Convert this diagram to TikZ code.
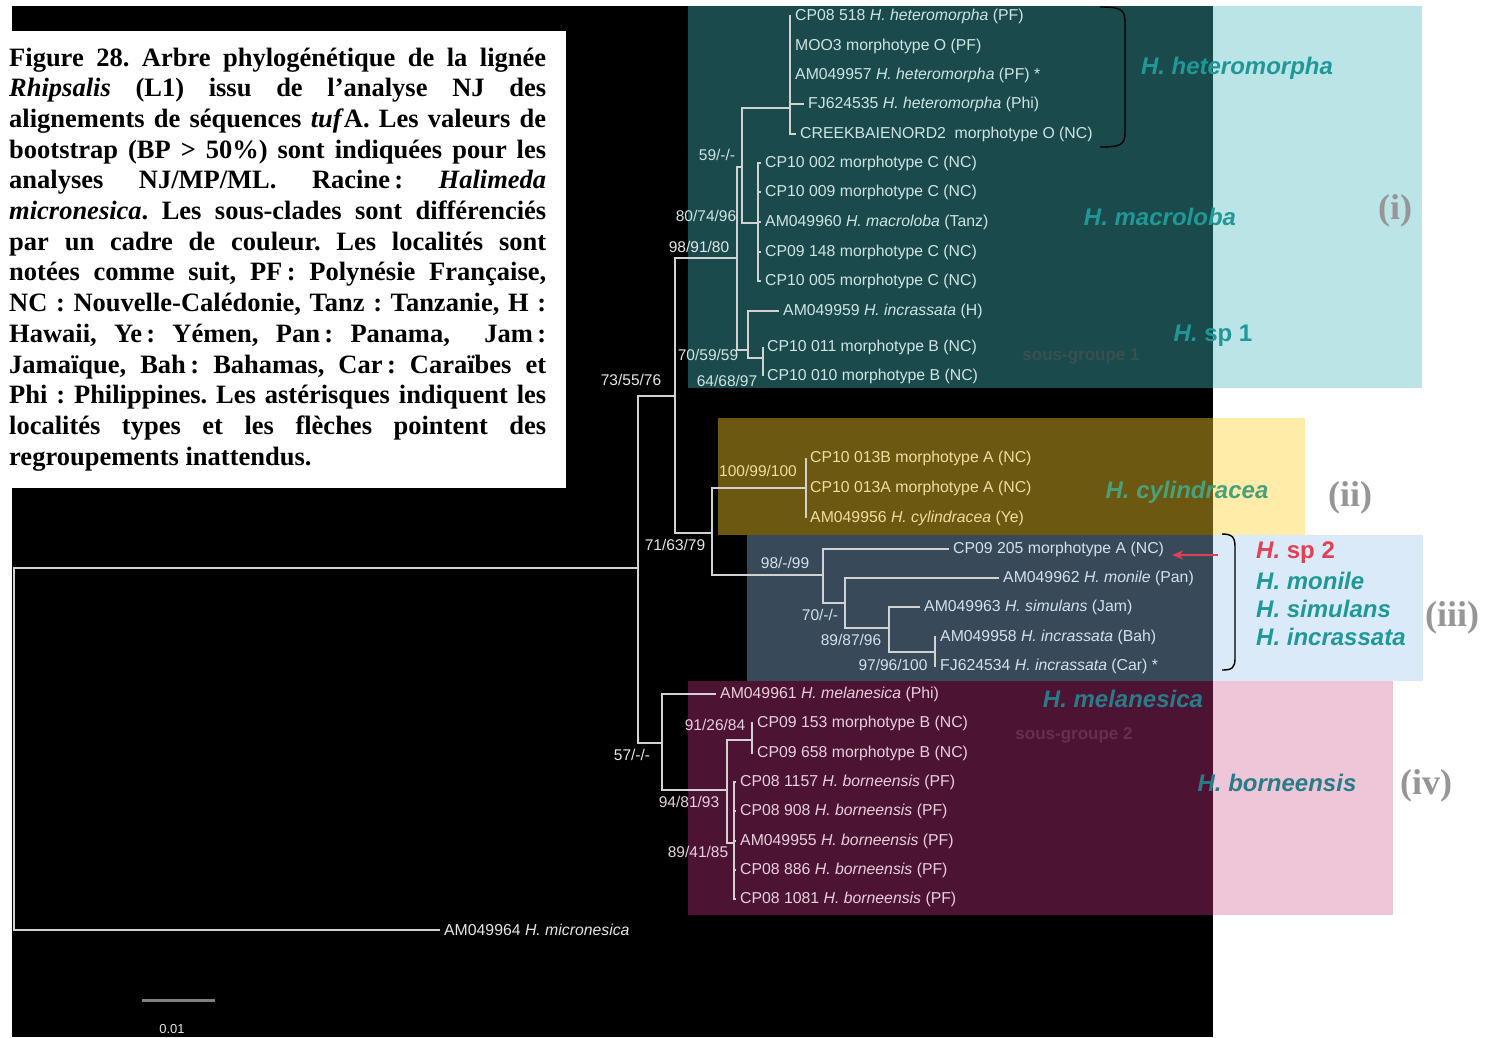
\documentclass[tikz,border=0pt]{standalone}
\usepackage{fontspec}
\setmainfont{Liberation Serif}
\newfontfamily\arialf{Liberation Sans}
\usetikzlibrary{arrows.meta}
\definecolor{tealdk}{RGB}{26,74,76}
\definecolor{teallt}{RGB}{186,228,230}
\definecolor{yeldk}{RGB}{108,88,16}
\definecolor{yellt}{RGB}{255,236,168}
\definecolor{bludk}{RGB}{56,74,90}
\definecolor{blult}{RGB}{218,234,248}
\definecolor{pnkdk}{RGB}{76,20,50}
\definecolor{pnklt}{RGB}{238,198,216}
\definecolor{linecol}{RGB}{210,210,210}
\definecolor{txtw}{RGB}{230,230,230}
\definecolor{txtteal}{RGB}{208,228,228}
\definecolor{txtyel}{RGB}{238,222,160}
\definecolor{txtblu}{RGB}{212,224,236}
\definecolor{txtpnk}{RGB}{232,208,220}
\definecolor{spteal}{RGB}{32,152,152}
\definecolor{spdteal}{RGB}{40,124,136}
\definecolor{spgreen}{RGB}{72,160,124}
\definecolor{spred}{RGB}{226,64,84}
\definecolor{romgray}{RGB}{150,150,150}
\definecolor{sgteal}{RGB}{58,80,80}
\definecolor{sgpink}{RGB}{100,50,76}
\definecolor{sbgray}{RGB}{128,128,128}
\newcommand\leaffont{\arialf\fontsize{15.8}{18}\selectfont}
\newcommand\bsfont{\arialf\fontsize{15.5}{18}\selectfont}
\newcommand\spfont{\arialf\bfseries\itshape\fontsize{24}{28}\selectfont}
\newcommand\sgfont{\arialf\bfseries\fontsize{17}{20}\selectfont}
\newcommand\romfont{\bfseries\fontsize{36}{40}\selectfont}
\newcommand\capfont{\bfseries\fontsize{26.5}{30.7}\selectfont\frenchspacing}
\newcommand\capline[1]{\makebox[537pt][s]{#1}}
\begin{document}
\begin{tikzpicture}[x=1pt,y=-1pt,
  br/.style={draw=linecol, line width=1.4pt},
  leaf/.style={anchor=west, inner xsep=4pt, inner ysep=0pt, font=\leaffont},
  bs/.style={font=\bsfont, inner sep=0pt},
  ctl/.style={text=txtteal}, cyl/.style={text=txtyel}, cbl/.style={text=txtblu},
  cpk/.style={text=txtpnk}, cwh/.style={text=txtw},
  spl/.style={font=\spfont, text=spteal, inner sep=0pt},
  roman/.style={font=\romfont, text=romgray, inner sep=0pt},
  brk/.style={draw=black, line width=1.4pt},
  sgl/.style={font=\sgfont, inner sep=0pt}]
\useasboundingbox (0,0) rectangle (1495,1037);
\fill[white] (0,0) rectangle (1495,1037);
\fill[black] (12,6) rectangle (1213,1037);
% coloured frames
\fill[tealdk] (688,6) rectangle (1213,388);
\fill[teallt] (1213,6) rectangle (1422,388);
\fill[yeldk] (718,418) rectangle (1213,535);
\fill[yellt] (1213,418) rectangle (1305,535);
\fill[bludk] (747,535) rectangle (1213,681);
\fill[blult] (1213,535) rectangle (1423,681);
\fill[pnkdk] (688,681) rectangle (1213,915);
\fill[pnklt] (1213,681) rectangle (1393,915);
% caption
\fill[white] (0,31) rectangle (566,488);
\node[anchor=base west, inner sep=0pt] (cap) at (9,66) {\begin{minipage}[t]{537pt}\capfont
\capline{Figure 28. Arbre phylogénétique de la lignée}\\
\capline{\textit{Rhipsalis} (L1) issu de l’analyse NJ des}\\
\capline{alignements de séquences \textit{tuf}A. Les valeurs de}\\
\capline{bootstrap (BP > 50\%) sont indiquées pour les}\\
\capline{analyses NJ/MP/ML. Racine\,: \textit{Halimeda}}\\
\capline{\textit{micronesica}. Les sous-clades sont différenciés}\\
\capline{par un cadre de couleur. Les localités sont}\\
\capline{notées comme suit, PF\,: Polynésie Française,}\\
\capline{NC : Nouvelle-Calédonie, Tanz : Tanzanie, H :}\\
\capline{Hawaii, Ye\,: Yémen, Pan\,: Panama,\ \ Jam\,:}\\
\capline{Jamaïque, Bah\,: Bahamas, Car\,: Caraïbes et}\\
\capline{Phi : Philippines. Les astérisques indiquent les}\\
\capline{localités types et les flèches pointent des}\\
regroupements inattendus.
\end{minipage}};
% faint sub-group labels
\node[sgl, text=sgteal] (sg1) at (1081,356) {sous-groupe 1};
\node[sgl, text=sgpink] (sg2) at (1074,735) {sous-groupe 2};
% internal nodes
\coordinate (R) at (14,749);
\coordinate (I) at (638,568);
\coordinate (A) at (675,396);
\coordinate (P) at (662,743);
\coordinate (T) at (737,258);
\coordinate (B) at (712,533);
\coordinate (H59) at (742,167);
\coordinate (N70) at (748,350);
\coordinate (HET) at (790,108);
\coordinate (MAC) at (758,223);
\coordinate (N64) at (763,358);
\coordinate (CYL) at (806,488);
\coordinate (N98) at (823,575);
\coordinate (N70b) at (845,603);
\coordinate (N89) at (889,628);
\coordinate (N97) at (935,652);
\coordinate (N94) at (727,790);
\coordinate (N91) at (752,740);
\coordinate (N89b) at (734,843);
% leaves
\node[leaf,cwh] (mic) at (440,930) {AM049964 \textit{H. micronesica}};
\node[leaf,ctl] (h1) at (791,16) {CP08 518 \textit{H. heteromorpha} (PF)};
\node[leaf,ctl] (h2) at (791,46) {MOO3 morphotype O (PF)};
\node[leaf,ctl] (h3) at (791,75) {AM049957 \textit{H. heteromorpha} (PF) *};
\node[leaf,ctl] (h4) at (804,104) {FJ624535 \textit{H. heteromorpha} (Phi)};
\node[leaf,ctl] (h5) at (796,134) {CREEKBAIENORD2\ \ morphotype O (NC)};
\node[leaf,ctl] (m1) at (761,163) {CP10 002 morphotype C (NC)};
\node[leaf,ctl] (m2) at (761,192) {CP10 009 morphotype C (NC)};
\node[leaf,ctl] (m3) at (761,222) {AM049960 \textit{H. macroloba} (Tanz)};
\node[leaf,ctl] (m4) at (761,252) {CP09 148 morphotype C (NC)};
\node[leaf,ctl] (m5) at (761,281) {CP10 005 morphotype C (NC)};
\node[leaf,ctl] (s0) at (779,311) {AM049959 \textit{H. incrassata} (H)};
\node[leaf,ctl] (s1) at (763,347) {CP10 011 morphotype B (NC)};
\node[leaf,ctl] (s2) at (763,376) {CP10 010 morphotype B (NC)};
\node[leaf,cyl] (c1) at (806,458) {CP10 013B morphotype A (NC)};
\node[leaf,cyl] (c2) at (806,488) {CP10 013A morphotype A (NC)};
\node[leaf,cyl] (c3) at (806,518) {AM049956 \textit{H. cylindracea} (Ye)};
\node[leaf,cbl] (b1) at (949,549) {CP09 205 morphotype A (NC)};
\node[leaf,cbl] (b2) at (999,578) {AM049962 \textit{H. monile} (Pan)};
\node[leaf,cbl] (b3) at (920,607) {AM049963 \textit{H. simulans} (Jam)};
\node[leaf,cbl] (b4) at (936,637) {AM049958 \textit{H. incrassata} (Bah)};
\node[leaf,cbl] (b5) at (936,666) {FJ624534 \textit{H. incrassata} (Car) *};
\node[leaf,cpk] (p0) at (716,694) {AM049961 \textit{H. melanesica} (Phi)};
\node[leaf,cpk] (p1) at (753,723) {CP09 153 morphotype B (NC)};
\node[leaf,cpk] (p2) at (753,753) {CP09 658 morphotype B (NC)};
\node[leaf,cpk] (p3) at (736,782) {CP08 1157 \textit{H. borneensis} (PF)};
\node[leaf,cpk] (p4) at (736,811) {CP08 908 \textit{H. borneensis} (PF)};
\node[leaf,cpk] (p5) at (736,841) {AM049955 \textit{H. borneensis} (PF)};
\node[leaf,cpk] (p6) at (736,870) {CP08 886 \textit{H. borneensis} (PF)};
\node[leaf,cpk] (p7) at (736,899) {CP08 1081 \textit{H. borneensis} (PF)};
% branches
\draw[br] (R) |- (I);  \draw[br] (R) |- (mic.west);
\draw[br] (I) |- (A);  \draw[br] (I) |- (P);
\draw[br] (A) |- (T);  \draw[br] (A) |- (B);
\draw[br] (T) |- (H59); \draw[br] (T) |- (N70);
\draw[br] (H59) |- (HET); \draw[br] (H59) |- (MAC);
\foreach \l in {h1,h2,h3,h4,h5} \draw[br] (HET) |- (\l.west);
\foreach \l in {m1,m2,m3,m4,m5} \draw[br] (MAC) |- (\l.west);
\draw[br] (N70) |- (s0.west); \draw[br] (N70) |- (N64);
\draw[br] (N64) |- (s1.west); \draw[br] (N64) |- (s2.west);
\draw[br] (B) |- (CYL); \draw[br] (B) |- (N98);
\foreach \l in {c1,c2,c3} \draw[br] (CYL) |- (\l.west);
\draw[br] (N98) |- (b1.west); \draw[br] (N98) |- (N70b);
\draw[br] (N70b) |- (b2.west); \draw[br] (N70b) |- (N89);
\draw[br] (N89) |- (b3.west); \draw[br] (N89) |- (N97);
\draw[br] (N97) |- (b4.west); \draw[br] (N97) |- (b5.west);
\draw[br] (P) |- (p0.west); \draw[br] (P) |- (N94);
\draw[br] (N94) |- (N91); \draw[br] (N94) |- (N89b);
\draw[br] (N91) |- (p1.west); \draw[br] (N91) |- (p2.west);
\foreach \l in {p3,p4,p5,p6,p7} \draw[br] (N89b) |- (\l.west);
% bootstrap values
\node[bs,ctl] (bs1) at (717,155) {59/-/-};
\node[bs,ctl] (bs2) at (706,216) {80/74/96};
\node[bs,cwh] (bs3) at (699,247) {98/91/80};
\node[bs,cwh] (bs4) at (631,380) {73/55/76};
\node[bs,ctl] (bs5) at (708,355) {70/59/59};
\node[bs,ctl] (bs6) at (727,381) {64/68/97};
\node[bs,cyl] (bs7) at (758,471) {100/99/100};
\node[bs,cwh] (bs8) at (675,545) {71/63/79};
\node[bs,cbl] (bs9) at (785,563) {98/-/99};
\node[bs,cbl] (bs10) at (820,615) {70/-/-};
\node[bs,cbl] (bs11) at (851,640) {89/87/96};
\node[bs,cbl] (bs12) at (893,665) {97/96/100};
\node[bs,cwh] (bs13) at (632,755) {57/-/-};
\node[bs,cpk] (bs14) at (715,725) {91/26/84};
\node[bs,cpk] (bs15) at (689,802) {94/81/93};
\node[bs,cpk] (bs16) at (698,852) {89/41/85};
% brackets and arrow
\draw[brk] (1100,7) .. controls (1120,7) and (1125,9) .. (1125,22) -- (1125,133) .. controls (1125,145) and (1120,147) .. (1100,147);
\draw[brk] (1222,534) .. controls (1232,534) and (1235,537) .. (1235,547) -- (1235,658) .. controls (1235,668) and (1232,670) .. (1222,670);
\coordinate (arrS) at (1218,555);
\draw[draw=spred, line width=1.6pt, -{Stealth[length=11pt,width=9pt]}] (arrS) -- ([xshift=4pt]b1.east |- arrS);
% clade names
\node[spl] (nhet) at (1237,68) {H. heteromorpha};
\node[spl] (nmac) at (1160,217) {H. macroloba};
\node[spl] (nsp1) at (1213,336) {H.\ {\upshape sp 1}};
\node[spl, text=spgreen] (ncyl) at (1187,492) {H. cylindracea};
\node[spl, text=spred, anchor=west] (nsp2) at (1256,553) {H.\ {\upshape sp 2}};
\node[spl, anchor=west] (nmon) at (1256,581) {H. monile};
\node[spl, anchor=west] (nsim) at (1256,609) {H. simulans};
\node[spl, anchor=west] (ninc) at (1256,637) {H. incrassata};
\node[spl, text=spdteal] (nmel) at (1123,699) {H. melanesica};
\node[spl, text=spdteal] (nbor) at (1277,783) {H. borneensis};
\node[roman] (r1) at (1395,211) {(i)};
\node[roman] (r2) at (1350,498) {(ii)};
\node[roman] (r3) at (1452,618) {(iii)};
\node[roman] (r4) at (1426,786) {(iv)};
% scale bar
\coordinate (sb1) at (142,1000);
\coordinate (sb2) at (215,1000);
\draw[draw=sbgray, line width=3pt] (sb1) -- (sb2);
\node[font=\arialf\fontsize{13}{15}\selectfont, text=txtw, inner sep=0pt] (sbl) at (172,1029) {0.01};
\end{tikzpicture}
\end{document}
